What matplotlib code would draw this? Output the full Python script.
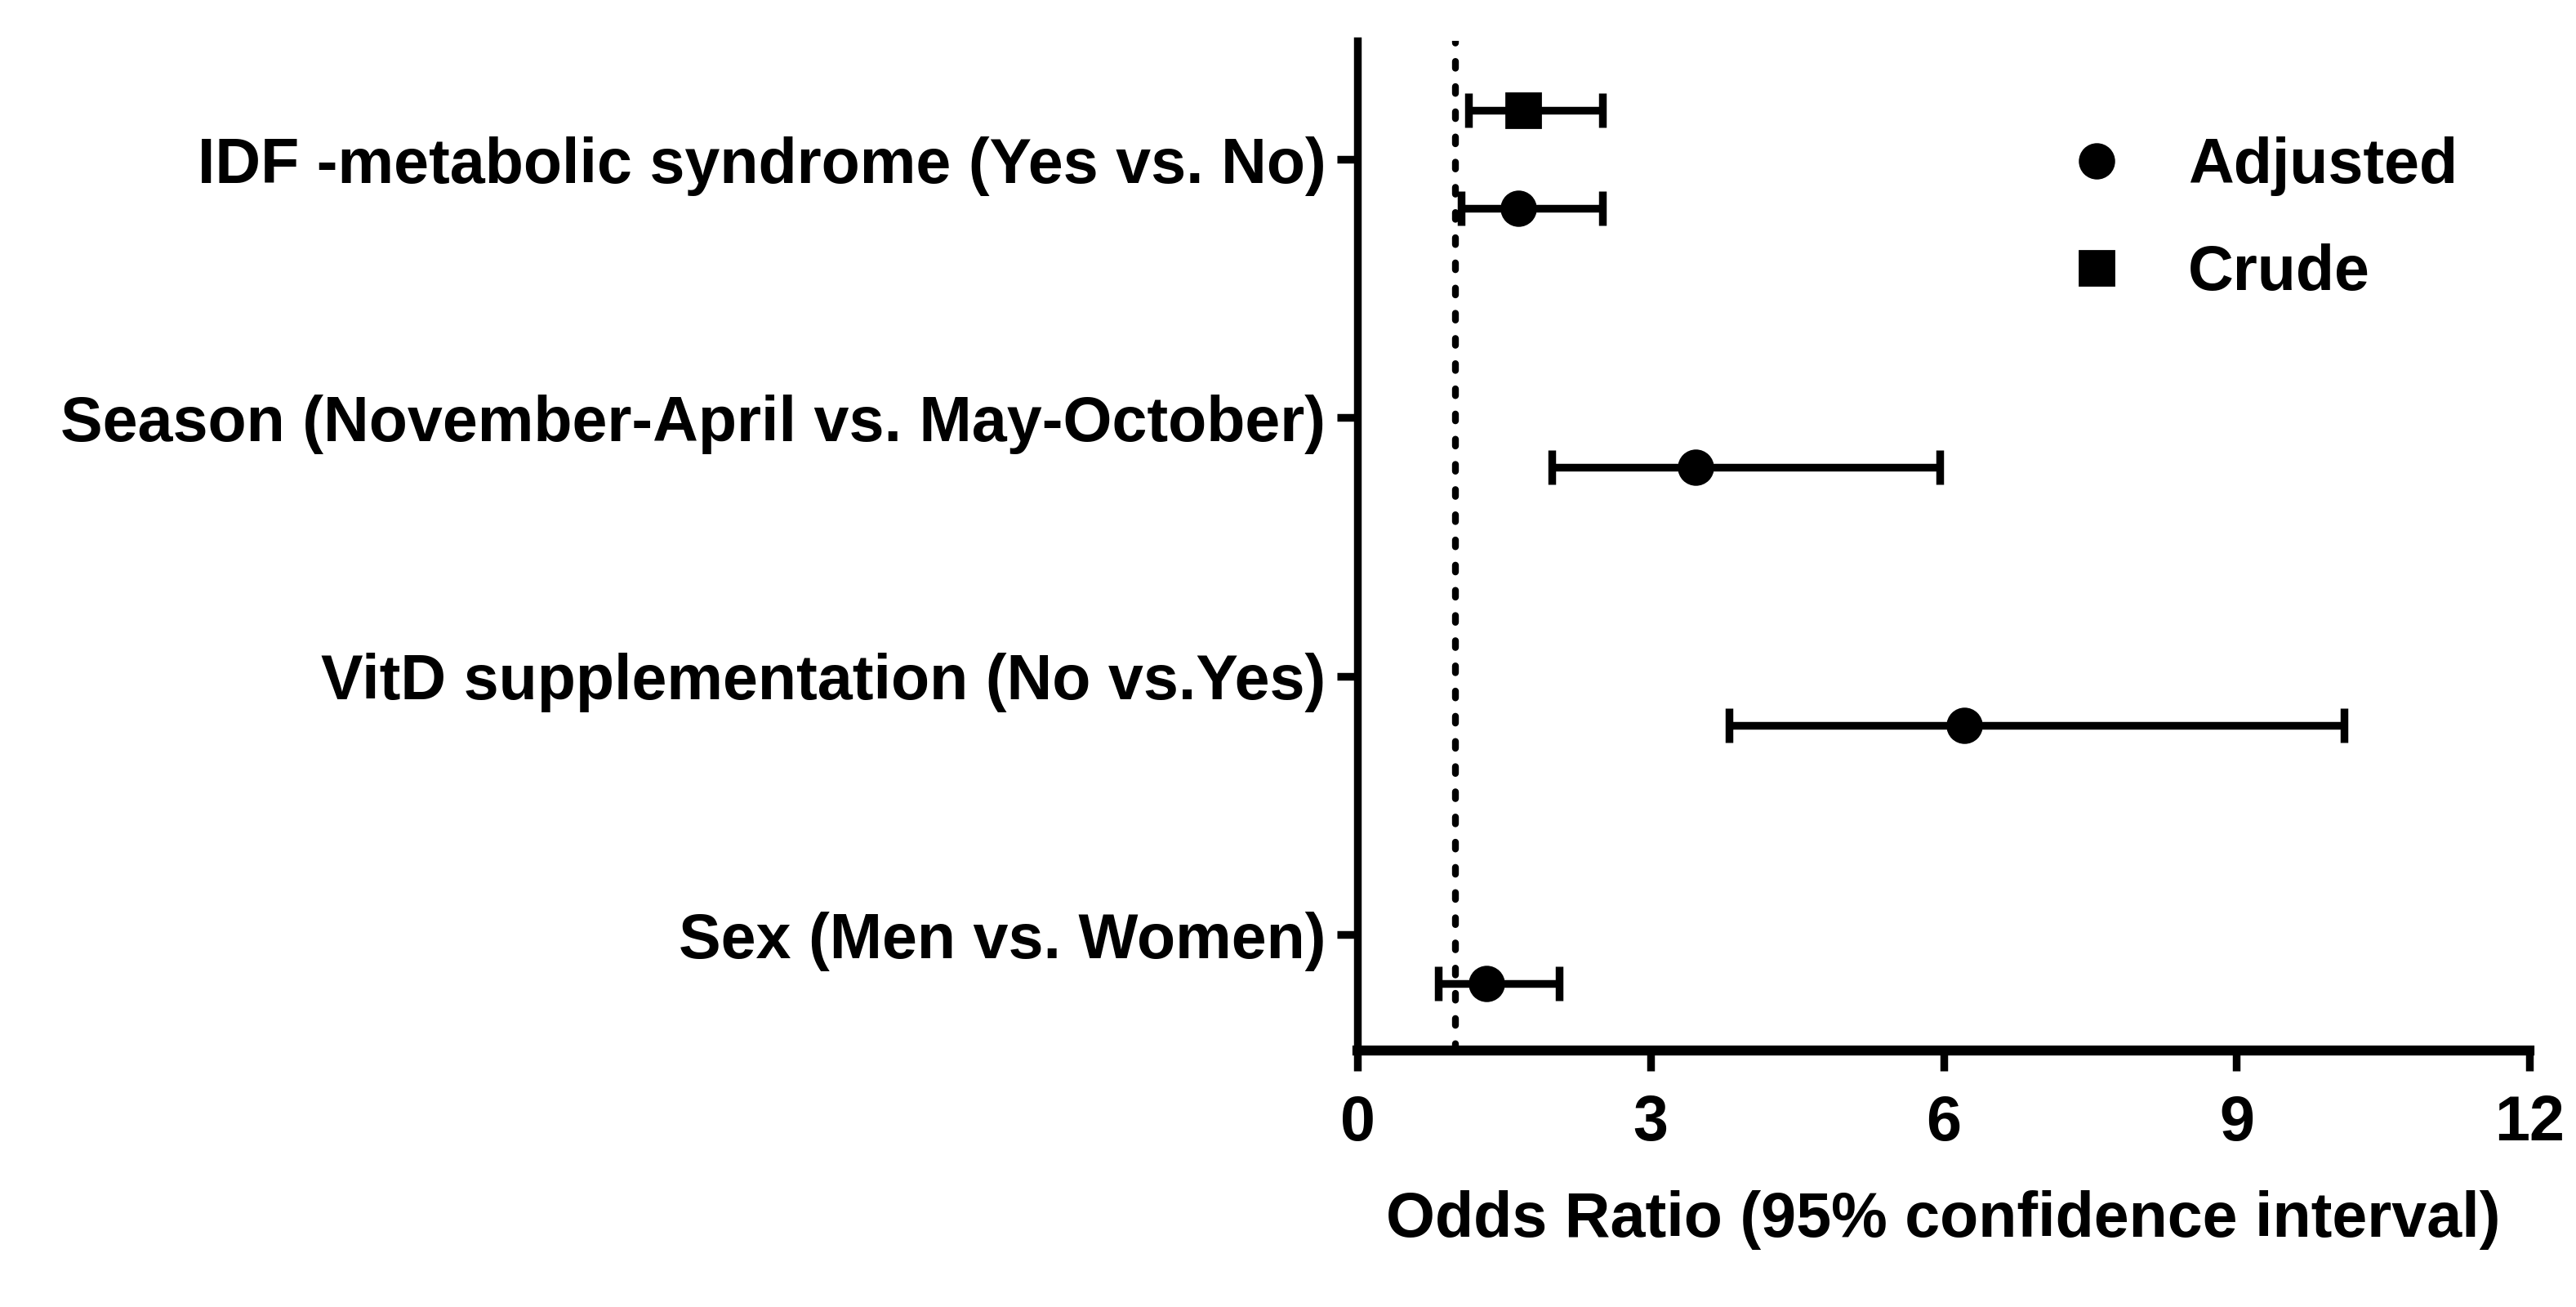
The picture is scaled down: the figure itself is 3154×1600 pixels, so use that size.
import matplotlib
matplotlib.use("Agg")
import matplotlib.pyplot as plt
from matplotlib.lines import Line2D

# ── data (odds ratios) ───────────────────────────────────────────────────────
labels = [
    "Sex (Men vs. Women)",
    "VitD supplementation (No vs.Yes)",
    "Season (November-April vs. May-October)",
    "IDF -metabolic syndrome (Yes vs. No)",
]
adj_or = [1.32, 6.21, 3.46, 1.65]
adj_lo = [0.83, 3.80, 1.99, 1.06]
adj_hi = [2.06, 10.10, 5.96, 2.51]

# crude estimate only shown for IDF metabolic syndrome (index 3)
crude_idx = [3]
crude_or = [1.70]
crude_lo = [1.14]
crude_hi = [2.51]

xticks = [0, 3, 6, 9, 12]

# ── style ────────────────────────────────────────────────────────────────────
plt.rcParams.update({
    "font.family": ["Liberation Sans", "DejaVu Sans"],
    "font.weight": "bold",
    "axes.labelweight": "bold",
    "font.size": 27.8,
})

LW = 3.4
ELW = 3.4
MS = 15
OFF = 0.19

fig = plt.figure(figsize=(15.77, 8.0), dpi=200)
ax = fig.add_axes([0.527, 0.196, 0.455, 0.773])

ypos = list(range(len(labels)))

ax.axvline(1, color="black", lw=3.0, linestyle=(0, (1, 2.7)),
           dash_capstyle="round", zorder=1)

ax.errorbar(adj_or, [y - OFF for y in ypos],
            xerr=[[m - l for m, l in zip(adj_or, adj_lo)],
                  [h - m for m, h in zip(adj_or, adj_hi)]],
            fmt="o", color="black", ms=MS, elinewidth=ELW,
            capsize=7.5, capthick=ELW, zorder=3)

ax.errorbar(crude_or, [ypos[i] + OFF for i in crude_idx],
            xerr=[[m - l for m, l in zip(crude_or, crude_lo)],
                  [h - m for m, h in zip(crude_or, crude_hi)]],
            fmt="s", color="black", ms=MS, elinewidth=ELW,
            capsize=7.5, capthick=ELW, zorder=3)

ax.set_xlim(0, 12)
ax.set_ylim(-0.45, 3.46)
ax.set_xticks(xticks)
ax.set_yticks(ypos)
ax.set_yticklabels(labels)
ax.set_xlabel("Odds Ratio (95% confidence interval)", labelpad=16)

for side in ("top", "right"):
    ax.spines[side].set_visible(False)
ax.spines["left"].set_linewidth(LW)
ax.spines["bottom"].set_linewidth(4.4)
ax.tick_params(axis="both", width=LW, length=9)
ax.tick_params(axis="x", pad=10)
ax.tick_params(axis="y", pad=5)

handles = [
    Line2D([0], [0], marker="o", color="black", linestyle="none", ms=MS),
    Line2D([0], [0], marker="s", color="black", linestyle="none", ms=MS),
]
ax.legend(handles, ["Adjusted", "Crude"], loc="upper left",
          bbox_to_anchor=(0.555, 0.961), frameon=False,
          handlelength=1.0, handletextpad=0.95, labelspacing=0.75)

fig.savefig("out.png", dpi=200)
